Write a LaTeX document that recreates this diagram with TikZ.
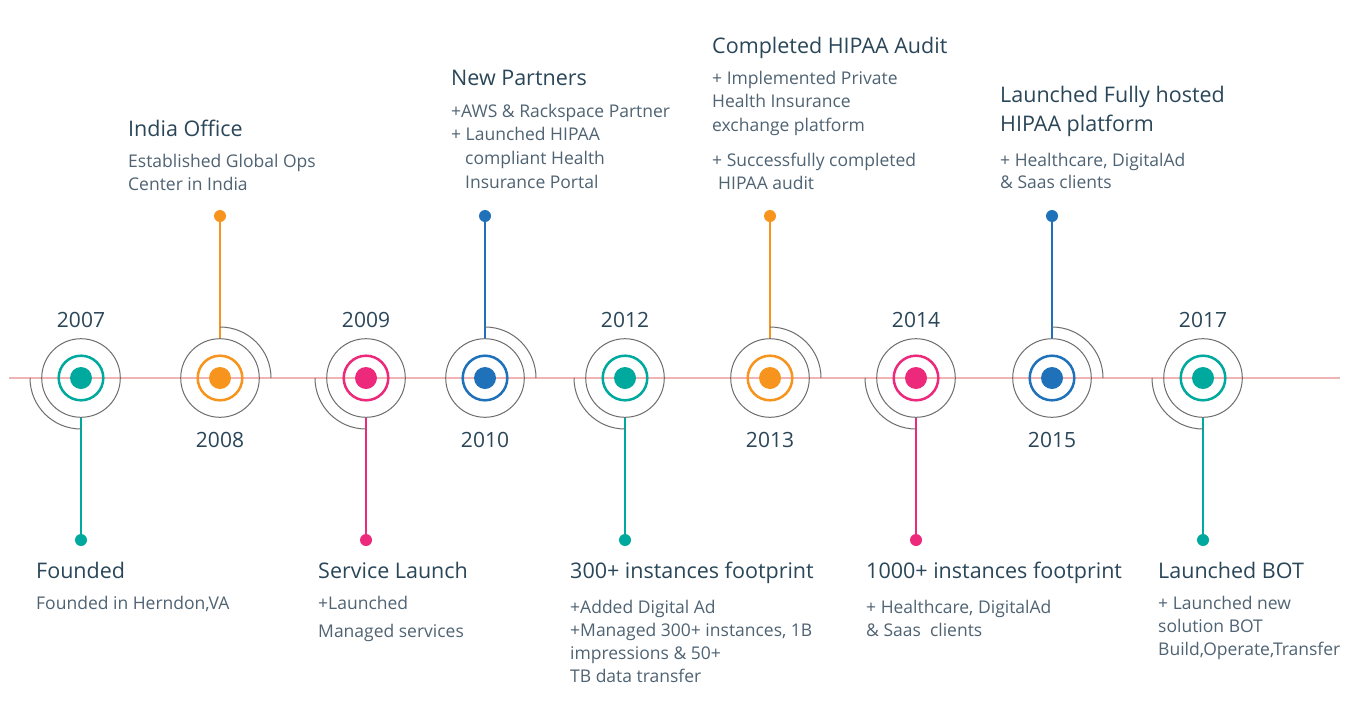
\documentclass[tikz,border=0pt]{standalone}
\usepackage{fontspec}
\setmainfont{Open Sans}
\definecolor{cteal}{HTML}{00A99D}
\definecolor{corange}{HTML}{F7941D}
\definecolor{cpink}{HTML}{EC297B}
\definecolor{cblue}{HTML}{1F72BA}
\definecolor{titlec}{HTML}{2A4659}
\definecolor{bodyc}{HTML}{4F6373}
\definecolor{grayc}{HTML}{6D6D6D}
\definecolor{axisc}{HTML}{F0B4B4}
\tikzset{
  ttl/.style={anchor=base west, font=\fontsize{21.5pt}{26pt}\selectfont, text=titlec, inner sep=0pt},
  bdy/.style={anchor=base west, font=\fontsize{17.5pt}{23pt}\selectfont, text=bodyc, inner sep=0pt},
  yr/.style={anchor=base, font=\fontsize{21pt}{25pt}\selectfont, text=titlec, inner sep=0pt},
  outerc/.style={circle, draw=grayc, line width=1pt, minimum size=78.6pt, inner sep=0pt},
  ringc/.style={circle, draw=#1, line width=2.5pt, minimum size=44.6pt, inner sep=0pt},
  dotc/.style={circle, fill=#1, minimum size=22pt, inner sep=0pt},
  stemdot/.style={circle, fill=#1, minimum size=12pt, inner sep=0pt},
  stemline/.style={draw=#1, line width=1.1pt},
  arcc/.style={draw=grayc, line width=1pt},
  axisline/.style={draw=axisc, line width=1.1pt}
}
\begin{document}
\begin{tikzpicture}[x=1pt,y=1pt]
\useasboundingbox (0,0) rectangle (1363,-718);
\fill[white] (0,0) rectangle (1363,-718);
\coordinate (axL) at (9,-378);
\coordinate (axR) at (1340,-378);
\draw[axisline] (axL) -- (axR);
% events with stem going down
\foreach \n/\x/\col/\yy in {1/81/cteal/2007, 3/366/cpink/2009, 5/625/cteal/2012, 7/916/cpink/2014, 9/1203/cteal/2017}{
  \node[outerc] (o\n) at (\x,-378) {};
  \node[ringc=\col] (r\n) at (\x,-378) {};
  \node[dotc=\col] (d\n) at (\x,-378) {};
  \node[stemdot=\col] (p\n) at (\x,-540) {};
  \draw[stemline=\col] (o\n.south) -- (p\n.center);
  \draw[arcc] (\x-51,-378) arc (180:270:51);
  \node[yr] (y\n) at (\x,-327) {\yy};
}
% events with stem going up
\foreach \n/\x/\col/\yy in {2/220/corange/2008, 4/485/cblue/2010, 6/770/corange/2013, 8/1052/cblue/2015}{
  \node[outerc] (o\n) at (\x,-378) {};
  \node[ringc=\col] (r\n) at (\x,-378) {};
  \node[dotc=\col] (d\n) at (\x,-378) {};
  \node[stemdot=\col] (p\n) at (\x,-216) {};
  \draw[stemline=\col] (o\n.north) -- (p\n.center);
  \draw[arcc] (\x,-327) arc (90:0:51);
  \node[yr] (y\n) at (\x,-447) {\yy};
}
% 2007
\node[ttl] (t1) at (36,-578) {Founded};
\node[bdy] (b1a) at (36,-609) {Founded in Herndon,VA};
% 2008
\node[ttl] (t2) at (128,-136) {India Office};
\node[bdy] (b2a) at (128,-167) {Established Global Ops};
\node[bdy] (b2b) at (128,-190) {Center in India};
% 2009
\node[ttl] (t3) at (318,-578) {Service Launch};
\node[bdy] (b3a) at (318,-609) {+Launched};
\node[bdy] (b3b) at (318,-637) {Managed services};
% 2010
\node[ttl] (t4) at (451,-85) {New Partners};
\node[bdy] (b4a) at (451,-117) {+AWS \& Rackspace Partner};
\node[bdy] (b4b) at (451,-140) {+ Launched HIPAA};
\node[bdy] (b4c) at (465,-164) {compliant Health};
\node[bdy] (b4d) at (465,-188) {Insurance Portal};
% 2012
\node[ttl] (t5) at (570,-578) {300+ instances footprint};
\node[bdy] (b5a) at (570,-613) {+Added Digital Ad};
\node[bdy] (b5b) at (570,-636) {+Managed 300+ instances, 1B};
\node[bdy] (b5c) at (570,-659) {impressions \& 50+};
\node[bdy] (b5d) at (570,-682) {TB data transfer};
% 2013
\node[ttl] (t6) at (712,-53) {Completed HIPAA Audit};
\node[bdy] (b6a) at (712,-84) {+ Implemented Private};
\node[bdy] (b6b) at (712,-107) {Health Insurance};
\node[bdy] (b6c) at (712,-131) {exchange platform};
\node[bdy] (b6d) at (712,-166) {+ Successfully completed};
\node[bdy] (b6e) at (718,-189) {HIPAA audit};
% 2014
\node[ttl] (t7) at (866,-578) {1000+ instances footprint};
\node[bdy] (b7a) at (866,-613) {+ Healthcare, DigitalAd};
\node[bdy] (b7b) at (866,-636) {\& Saas\ \ clients};
% 2015
\node[ttl] (t8) at (1000,-102) {Launched Fully hosted};
\node[ttl] (t8b) at (1000,-131) {HIPAA platform};
\node[bdy] (b8a) at (1000,-166) {+ Healthcare, DigitalAd};
\node[bdy] (b8b) at (1000,-188) {\& Saas clients};
% 2017
\node[ttl] (t9) at (1158,-578) {Launched BOT};
\node[bdy] (b9a) at (1158,-609) {+ Launched new};
\node[bdy] (b9b) at (1158,-632) {solution BOT};
\node[bdy] (b9c) at (1158,-655) {Build,Operate,Transfer};
\end{tikzpicture}
\end{document}
